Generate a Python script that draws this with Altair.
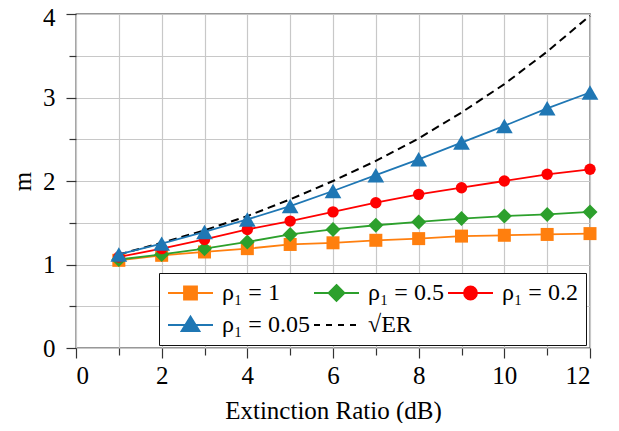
import altair as alt
import pandas as pd

# ---- data ----
x_db = [1, 2, 3, 4, 5, 6, 7, 8, 9, 10, 11, 12]
series_labels = ["ρ₁ = 1", "ρ₁ = 0.5", "ρ₁ = 0.2", "ρ₁ = 0.05", "√ER"]
m_rho_1 = [1.05, 1.11, 1.15, 1.19, 1.24, 1.26, 1.29, 1.31, 1.34, 1.35, 1.36, 1.37]
m_rho_05 = [1.06, 1.12, 1.19, 1.27, 1.36, 1.42, 1.47, 1.51, 1.55, 1.58, 1.60, 1.63]
m_rho_02 = [1.09, 1.19, 1.30, 1.42, 1.52, 1.63, 1.74, 1.84, 1.92, 2.00, 2.08, 2.14]
m_rho_005 = [1.12, 1.25, 1.39, 1.54, 1.70, 1.88, 2.07, 2.26, 2.46, 2.66, 2.87, 3.06]
m_sqrt_er = [1.12, 1.26, 1.41, 1.58, 1.78, 2.00, 2.24, 2.51, 2.82, 3.16, 3.55, 3.98]
x_ticks = list(range(0, 13))
y_ticks = [0, 0.5, 1, 1.5, 2, 2.5, 3, 3.5, 4]

# ---- styles ----
colors = ["#ff7f0e", "#2ca02c", "#ff0000", "#1f77b4", "#000000"]
marker_shapes = ["square", "diamond", "circle", "triangle-up"]
marker_sizes = [169, 225, 130, 280]
# legend glyphs (line + marker), unit = 10 px, symbol centre sits 11 px into the entry
legend_paths = [
    "M-1.1,0H3.4M0.5,-0.65H1.8V0.65H0.5Z",
    "M-1.1,0H3.4M1.15,-0.8L1.95,0L1.15,0.8L0.35,0Z",
    "M-1.1,0H3.4M0.5,0A0.65,0.65 0 1,0 1.8,0A0.65,0.65 0 1,0 0.5,0Z",
    "M-1.1,0H3.4M1.15,-0.85L2.05,0.6L0.25,0.6Z",
    "M-1.1,0H-0.5M0.1,0H0.7M1.3,0H1.9M2.5,0H3.1",
]
FONT = "Liberation Serif"

all_series = [m_rho_1, m_rho_05, m_rho_02, m_rho_005, m_sqrt_er]
rows = []
for lbl, vals in zip(series_labels, all_series):
    for xv, yv in zip(x_db, vals):
        rows.append({"x": xv, "m": yv, "series": lbl})
df = pd.DataFrame(rows)

xenc = alt.X(
    "x:Q",
    scale=alt.Scale(domain=[0, 12], nice=False, zero=False),
    axis=alt.Axis(
        values=x_ticks,
        labelExpr="datum.value % 2 == 0 ? format(datum.value, 'd') : ''",
        tickSize={"condition": {"test": "datum.value % 2 == 0", "value": 10}, "value": 7},
        labelPadding=5,
        title="Extinction Ratio (dB)",
        titlePadding=10,
    ),
)
yenc = alt.Y(
    "m:Q",
    scale=alt.Scale(domain=[0, 4], nice=False, zero=False),
    axis=alt.Axis(
        values=y_ticks,
        labelExpr="datum.value % 1 == 0 ? format(datum.value, 'd') : ''",
        tickSize={"condition": {"test": "datum.value % 1 == 0", "value": 10}, "value": 7},
        labelOffset={"condition": {"test": "datum.value == 4", "value": 3}, "value": 0},
        labelPadding=11,
        title="m",
        titlePadding=7,
    ),
)

base = alt.Chart(df)
layers = []
# dashed sqrt(ER) line behind everything
layers.append(
    base.transform_filter(alt.datum.series == series_labels[4])
    .mark_line(color=colors[4], strokeDash=[8, 5], strokeWidth=2)
    .encode(x=xenc, y=yenc)
)
for i in range(4):
    sub = base.transform_filter(alt.datum.series == series_labels[i])
    layers.append(sub.mark_line(color=colors[i], strokeWidth=1.8).encode(x=xenc, y=yenc))
    layers.append(
        sub.mark_point(
            shape=marker_shapes[i], size=marker_sizes[i], filled=True,
            color=colors[i], opacity=1, strokeWidth=0,
        ).encode(x=xenc, y=yenc)
    )

legend_def = alt.Legend(
    title=None,
    orient="none",
    legendX=83,
    legendY=259,
    direction="horizontal",
    columns=3,
    symbolSize=400,
    symbolStrokeWidth=1.8,
    symbolOpacity=1,
    labelOffset=31,
    columnPadding=0,
    rowPadding=7,
    padding=8,
)
legend_layer = (
    base.transform_filter("false")
    .mark_point(filled=True, opacity=1)
    .encode(
        x=xenc,
        y=yenc,
        fill=alt.Fill("series:N", scale=alt.Scale(domain=series_labels, range=colors), legend=legend_def),
        stroke=alt.Stroke("series:N", scale=alt.Scale(domain=series_labels, range=colors), legend=legend_def),
        shape=alt.Shape("series:N", scale=alt.Scale(domain=series_labels, range=legend_paths), legend=legend_def),
    )
)
layers.append(legend_layer)

chart = (
    alt.layer(*layers)
    .properties(
        width=514,
        height=334,
        autosize=alt.AutoSizeParams(type="none"),
        padding={"left": 68, "top": 6, "right": 21, "bottom": 75},
        background="white",
    )
    .configure_view(stroke="#333333", strokeWidth=1.3)
    .configure_axis(
        labelFont=FONT,
        labelFontSize=25,
        labelColor="black",
        titleFont=FONT,
        titleFontSize=25,
        titleFontWeight="normal",
        titleColor="black",
        gridColor="#c8c8c8",
        gridWidth=1.2,
        tickColor="#333333",
        tickWidth=1.2,
        domain=False,
    )
    .configure_legend(
        labelFont=FONT,
        labelFontSize=24,
        labelColor="black",
        strokeColor="#111111",
        fillColor="white",
        cornerRadius=0,
        labelLimit=300,
    )
)

chart.save("out.html", embed_options={"renderer": "svg", "actions": False})
